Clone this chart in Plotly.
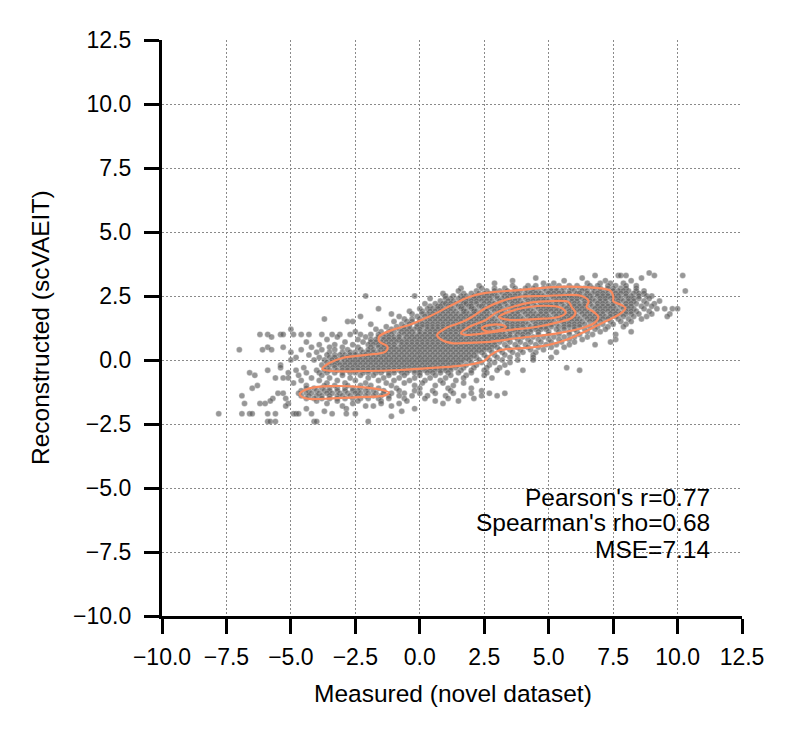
import plotly.graph_objects as go

ROW_Y = [3.4, 3.3, 3.2, 3.1, 3.0, 2.9, 2.8, 2.7, 2.6, 2.5, 2.4, 2.3, 2.2, 2.1, 2.0, 1.9, 1.8, 1.7,
         1.6, 1.5, 1.4, 1.3, 1.2, 1.1, 1.0, 0.9, 0.8, 0.7, 0.6, 0.5, 0.4, 0.3, 0.2, 0.1, 0.0,
         -0.1, -0.2, -0.3, -0.4, -0.5, -0.6, -0.7, -0.8, -0.9, -1.0, -1.1, -1.2, -1.3, -1.4,
         -1.5, -1.6, -1.7, -1.8, -1.9, -2.0, -2.1, -2.2, -2.4]
ROW_X = [
    [8.9],
    [6.8, 7.7, 7.8, 8.0, 9.1, 10.2],
    [4.5, 6.3, 8.6],
    [3.6, 5.6, 7.2, 8.2],
    [2.9, 4.8, 5.2, 6.5, 7.0, 7.4, 7.9],
    [2.3, 3.6, 4.2, 4.5, 5.0, 5.4, 5.8, 6.1, 6.6, 6.9, 7.3, 7.6, 8.0, 8.4],
    [1.6, 2.4, 2.9, 3.3, 3.7, 4.1, 4.4, 4.8, 5.1, 5.3, 5.6, 5.9, 6.2, 6.4, 6.7, 7.0, 7.3, 7.5, 7.8, 8.0, 8.4],
    [1.5, 2.2, 2.6, 2.9, 3.1, 3.4, 3.7, 3.9, 4.2, 4.4, 4.6, 4.9, 5.1, 5.3, 5.5, 5.8, 6.0, 6.3, 6.5, 6.8,
     7.0, 7.2, 7.5, 7.7, 7.9, 8.1, 8.4, 8.7, 10.3],
    [0.9, 1.7, 2.0, 2.3, 2.5, 2.7, 2.9, 3.2, 3.4, 3.6, 3.8, 4.1, 4.3, 4.5, 4.7, 5.0, 5.2, 5.4, 5.6, 5.8,
     6.1, 6.2, 6.5, 6.7, 6.9, 7.1, 7.3, 7.6, 7.8, 8.0, 8.3, 8.5, 8.7],
    [-2.1, -0.2, 1.0, 1.3, 1.6, 1.8, 2.1, 2.2, 2.4, 2.6, 2.8, 3.0, 3.3, 3.5, 3.7, 3.9, 4.1, 4.4, 4.6, 4.8,
     5.1, 5.3, 5.5, 5.7, 5.8, 6.0, 6.2, 6.4, 6.6, 6.9, 7.1, 7.3, 7.5, 7.7, 8.0, 8.2, 8.5, 8.8, 9.0],
    [0.4, 1.0, 1.2, 1.5, 1.7, 1.9, 2.1, 2.3, 2.5, 2.7, 3.0, 3.2, 3.4, 3.6, 3.8, 4.1, 4.3, 4.5, 4.7, 4.9,
     5.2, 5.4, 5.6, 5.9, 6.1, 6.3, 6.5, 6.7, 7.0, 7.2, 7.4, 7.6, 7.8, 8.1, 8.3, 8.5, 8.9],
    [0.8, 1.1, 1.3, 1.6, 1.8, 2.0, 2.2, 2.4, 2.6, 2.8, 3.1, 3.3, 3.5, 3.7, 3.9, 4.2, 4.4, 4.6, 4.8, 5.0,
     5.3, 5.5, 5.7, 5.9, 6.1, 6.4, 6.6, 6.8, 7.0, 7.2, 7.5, 7.7, 7.9, 8.1, 8.3, 8.7, 9.3],
    [0.2, 0.6, 0.9, 1.0, 1.2, 1.4, 1.7, 1.8, 2.0, 2.2, 2.5, 2.7, 2.9, 3.1, 3.3, 3.6, 3.8, 4.0, 4.2, 4.4,
     4.7, 4.9, 5.1, 5.3, 5.5, 5.8, 6.0, 6.2, 6.4, 6.6, 6.9, 7.1, 7.3, 7.5, 7.7, 8.0, 8.2, 8.4, 8.8, 9.1],
    [0.4, 0.7, 0.8, 1.1, 1.2, 1.5, 1.6, 1.9, 2.0, 2.3, 2.4, 2.7, 2.9, 3.1, 3.4, 3.6, 3.8, 4.0, 4.2, 4.5,
     4.7, 4.9, 5.1, 5.3, 5.6, 5.8, 6.0, 6.2, 6.4, 6.7, 6.9, 7.1, 7.3, 7.5, 7.8, 8.0, 8.2, 8.6, 9.0],
    [-1.6, 0.0, 0.3, 0.5, 0.7, 0.9, 1.1, 1.3, 1.6, 1.7, 2.0, 2.1, 2.5, 2.6, 2.8, 3.0, 3.2, 3.5, 3.7, 3.9,
     4.1, 4.3, 4.6, 4.8, 5.0, 5.2, 5.4, 5.7, 5.9, 6.1, 6.3, 6.5, 6.8, 7.0, 7.2, 7.4, 7.6, 7.9, 8.1, 8.3,
     8.7, 9.2, 9.5, 9.8, 10.0],
    [-0.4, 0.1, 0.4, 0.6, 0.8, 1.0, 1.2, 1.4, 1.7, 1.8, 2.1, 2.2, 2.4, 2.6, 2.9, 3.1, 3.3, 3.6, 3.8, 4.0,
     4.2, 4.4, 4.7, 4.9, 5.1, 5.3, 5.5, 5.8, 6.0, 6.2, 6.4, 6.6, 6.9, 7.1, 7.3, 7.5, 7.7, 8.0, 8.2, 8.4, 8.9],
    [-1.1, -0.3, 0.1, 0.3, 0.5, 0.7, 0.9, 1.1, 1.3, 1.5, 1.7, 1.9, 2.1, 2.3, 2.5, 2.7, 3.0, 3.2, 3.4, 3.6,
     3.8, 4.1, 4.3, 4.5, 4.7, 4.9, 5.2, 5.4, 5.6, 5.8, 6.0, 6.3, 6.5, 6.7, 6.9, 7.1, 7.4, 7.6, 7.8, 8.0,
     8.2, 8.5, 9.0, 9.7],
    [-2.3, -0.8, -0.1, 0.2, 0.4, 0.6, 0.8, 1.0, 1.2, 1.4, 1.6, 1.8, 2.0, 2.2, 2.4, 2.6, 2.8, 3.1, 3.3, 3.5,
     3.7, 3.9, 4.2, 4.4, 4.6, 4.8, 5.0, 5.3, 5.5, 5.7, 5.9, 6.1, 6.4, 6.6, 6.8, 7.0, 7.2, 7.4, 7.6, 7.9,
     8.3, 8.8, 9.6],
    [-3.7, -0.6, -0.3, 0.0, 0.3, 0.5, 0.7, 0.9, 1.1, 1.3, 1.5, 1.7, 1.9, 2.1, 2.3, 2.5, 2.7, 2.9, 3.2, 3.4,
     3.6, 3.8, 4.0, 4.3, 4.5, 4.7, 4.9, 5.1, 5.4, 5.6, 5.8, 6.0, 6.2, 6.5, 6.7, 6.9, 7.1, 7.3, 7.7, 8.1, 8.6],
    [-2.8, -2.6, -1.0, -0.5, -0.3, 0.0, 0.2, 0.4, 0.6, 0.8, 1.0, 1.2, 1.4, 1.6, 1.8, 2.0, 2.2, 2.4, 2.6, 2.8,
     3.0, 3.3, 3.5, 3.7, 3.9, 4.1, 4.4, 4.6, 4.8, 5.0, 5.2, 5.5, 5.7, 5.9, 6.1, 6.3, 6.6, 6.8, 7.0, 7.4,
     7.8, 8.2],
    [-1.9, -0.7, -0.4, -0.1, 0.1, 0.3, 0.5, 0.7, 0.9, 1.1, 1.3, 1.5, 1.7, 1.9, 2.1, 2.3, 2.5, 2.7, 2.9, 3.1,
     3.4, 3.6, 3.8, 4.0, 4.2, 4.5, 4.7, 4.9, 5.1, 5.3, 5.6, 5.8, 6.0, 6.2, 6.4, 6.8, 7.1, 7.5, 8.0],
    [-1.3, -0.9, -0.6, -0.4, -0.1, 0.1, 0.3, 0.5, 0.7, 0.9, 1.1, 1.3, 1.5, 1.7, 1.9, 2.1, 2.3, 2.5, 2.7, 2.9,
     3.2, 3.4, 3.6, 3.8, 4.0, 4.3, 4.5, 4.7, 4.9, 5.1, 5.4, 5.6, 5.8, 6.0, 6.2, 6.6, 6.9, 7.3, 7.9],
    [-5.0, -1.7, -1.1, -0.8, -0.6, -0.4, -0.2, 0.0, 0.3, 0.5, 0.7, 0.9, 1.1, 1.3, 1.5, 1.7, 1.9, 2.1, 2.3,
     2.5, 2.7, 3.0, 3.2, 3.4, 3.6, 3.8, 4.1, 4.3, 4.5, 4.7, 4.9, 5.3, 5.6, 6.0, 6.4, 6.8, 7.2],
    [-2.5, -1.5, -1.2, -1.0, -0.7, -0.5, -0.3, 0.0, 0.2, 0.4, 0.6, 0.8, 1.0, 1.2, 1.4, 1.6, 1.8, 2.0, 2.2,
     2.4, 2.6, 2.8, 3.0, 3.2, 3.5, 3.7, 3.9, 4.1, 4.3, 4.6, 5.0, 5.4, 5.8, 6.1, 6.5, 7.0, 8.2],
    [-6.2, -5.9, -5.4, -5.3, -4.9, -4.6, -4.3, -3.8, -3.4, -3.1, -2.7, -2.3, -1.9, -1.6, -1.3, -1.1, -0.8,
     -0.6, -0.4, -0.2, 0.0, 0.2, 0.4, 0.6, 0.8, 1.0, 1.2, 1.4, 1.6, 1.9, 2.1, 2.3, 2.5, 2.7, 2.9, 3.1, 3.3,
     3.5, 3.8, 4.0, 4.2, 4.6, 5.0, 5.4, 5.8, 6.2, 6.7, 7.6],
    [-5.75, -3.2, -2.1, -1.6, -1.4, -1.2, -1.0, -0.8, -0.5, -0.3, -0.1, 0.1, 0.3, 0.5, 0.7, 0.9, 1.1, 1.3,
     1.5, 1.7, 1.9, 2.1, 2.3, 2.5, 2.7, 2.9, 3.1, 3.3, 3.5, 3.7, 4.0, 4.4, 4.8, 5.2, 5.6, 6.0, 6.5],
    [-3.6, -2.4, -1.9, -1.7, -1.4, -1.2, -1.0, -0.8, -0.6, -0.4, -0.2, 0.0, 0.2, 0.4, 0.6, 0.8, 1.0, 1.2,
     1.4, 1.6, 1.8, 2.0, 2.2, 2.4, 2.6, 2.8, 3.0, 3.2, 3.4, 3.8, 4.2, 4.6, 5.0, 5.4, 5.8, 6.3, 7.6],
    [-4.4, -2.9, -2.2, -1.9, -1.7, -1.5, -1.3, -1.1, -0.9, -0.7, -0.5, -0.3, -0.1, 0.1, 0.3, 0.5, 0.7, 0.9,
     1.1, 1.3, 1.5, 1.7, 1.9, 2.1, 2.3, 2.5, 2.7, 2.9, 3.1, 3.5, 3.9, 4.3, 4.7, 5.1, 5.5, 6.0, 7.4],
    [-3.9, -3.3, -2.6, -2.0, -1.8, -1.6, -1.4, -1.2, -1.0, -0.7, -0.5, -0.3, -0.1, 0.1, 0.3, 0.5, 0.7, 0.9,
     1.1, 1.3, 1.5, 1.7, 1.9, 2.1, 2.3, 2.5, 2.7, 2.9, 3.3, 3.7, 4.1, 4.5, 4.9, 5.3, 5.8, 6.8],
    [-5.9, -5.3, -4.2, -3.5, -3.0, -2.4, -1.9, -1.6, -1.4, -1.2, -1.0, -0.8, -0.6, -0.4, -0.2, 0.0, 0.2,
     0.4, 0.6, 0.8, 1.0, 1.2, 1.4, 1.6, 1.8, 2.0, 2.2, 2.4, 2.6, 2.8, 3.0, 3.4, 3.8, 4.2, 4.6, 5.1, 5.6],
    [-7.0, -6.1, -5.75, -4.6, -3.8, -3.3, -2.8, -2.3, -2.0, -1.8, -1.5, -1.3, -1.1, -0.9, -0.7, -0.5, -0.3,
     -0.1, 0.1, 0.3, 0.5, 0.7, 0.9, 1.1, 1.3, 1.5, 1.7, 1.9, 2.1, 2.3, 2.5, 2.7, 3.1, 3.5, 3.9, 4.3, 4.8],
    [-5.0, -4.0, -3.5, -3.0, -2.7, -2.5, -2.2, -2.0, -1.8, -1.6, -1.4, -1.2, -1.0, -0.8, -0.6, -0.4, -0.2,
     0.0, 0.2, 0.4, 0.6, 0.8, 1.0, 1.2, 1.4, 1.6, 1.8, 2.0, 2.2, 2.4, 2.8, 3.2, 3.6, 4.0, 4.5, 5.3],
    [-4.3, -3.6, -3.3, -3.1, -2.9, -2.7, -2.5, -2.3, -2.1, -1.9, -1.7, -1.5, -1.3, -1.1, -0.9, -0.7, -0.5,
     -0.3, -0.1, 0.1, 0.3, 0.5, 0.7, 0.9, 1.1, 1.3, 1.5, 1.7, 1.9, 2.1, 2.5, 2.9, 3.3, 3.8, 4.4],
    [-4.8, -3.9, -3.5, -3.3, -3.0, -2.8, -2.6, -2.4, -2.2, -2.0, -1.8, -1.6, -1.4, -1.2, -1.0, -0.8, -0.6,
     -0.4, -0.2, 0.0, 0.2, 0.4, 0.6, 0.8, 1.0, 1.2, 1.4, 1.6, 1.8, 2.0, 2.2, 2.6, 3.0, 3.5, 4.4, 5.1],
    [-5.0, -4.1, -3.7, -3.4, -3.2, -2.9, -2.7, -2.5, -2.3, -2.1, -1.9, -1.7, -1.5, -1.3, -1.1, -0.9, -0.7,
     -0.5, -0.3, -0.1, 0.1, 0.3, 0.5, 0.7, 0.9, 1.1, 1.3, 1.5, 1.7, 1.9, 2.3, 2.7, 3.2, 3.8, 4.4],
    [-3.6, -3.4, -3.2, -3.0, -2.8, -2.6, -2.4, -2.2, -2.0, -1.8, -1.6, -1.4, -1.2, -1.0, -0.8, -0.6, -0.4,
     -0.2, 0.0, 0.2, 0.4, 0.6, 0.8, 1.0, 1.2, 1.4, 1.6, 2.0, 2.4, 2.9, 3.5],
    [-5.4, -3.8, -3.5, -3.3, -3.1, -2.9, -2.7, -2.5, -2.3, -2.1, -1.9, -1.7, -1.5, -1.3, -1.1, -0.9, -0.7,
     -0.5, -0.3, -0.1, 0.1, 0.3, 0.5, 0.7, 0.9, 1.1, 1.3, 1.5, 1.8, 2.2, 2.7, 3.3],
    [-5.4, -4.5, -3.6, -3.3, -3.0, -2.8, -2.6, -2.4, -2.2, -2.0, -1.8, -1.6, -1.4, -1.2, -1.0, -0.8, -0.6,
     -0.4, -0.2, 0.0, 0.2, 0.4, 0.6, 0.8, 1.0, 1.2, 1.4, 1.7, 2.1, 2.6, 3.1, 5.7],
    [-5.9, -4.8, -4.0, -3.7, -3.5, -3.2, -3.0, -2.8, -2.6, -2.4, -2.2, -2.0, -1.8, -1.6, -1.4, -1.2, -1.0,
     -0.8, -0.6, -0.4, -0.2, 0.0, 0.2, 0.4, 0.6, 0.8, 1.0, 1.2, 1.6, 2.0, 2.5, 3.0, 4.0, 6.2],
    [-6.6, -5.1, -4.4, -3.9, -3.6, -3.3, -3.0, -2.7, -2.5, -2.2, -2.0, -1.7, -1.5, -1.2, -1.0, -0.7, -0.5,
     -0.2, 0.0, 0.3, 0.5, 0.8, 1.1, 1.5, 2.0, 2.6, 3.4],
    [-6.4, -4.7, -3.8, -3.0, -2.3, -1.8, -1.2, -0.6, 0.0, 0.6, 1.2, 1.8, 2.5],
    [-5.6, -5.3, -5.1, -4.2, -3.5, -2.7, -2.0, -1.4, -0.8, -0.2, 0.4, 1.0, 1.7, 2.8],
    [-4.6, -3.9, -3.2, -2.5, -1.6, -1.0, -0.4, 0.2, 0.8, 1.4, 2.2],
    [-4.9, -3.6, -2.9, -2.1, -1.3, -0.6, 0.1, 0.9, 1.7],
    [-6.3, -4.4, -3.7, -3.3, -2.8, -2.3, -1.9, -1.1, -0.2, 0.6, 1.3],
    [-6.5, -4.4, -4.1, -3.8, -3.5, -3.2, -2.9, -2.6, -2.3, -2.0, -1.6, -0.9, 0.0, 1.1, 2.0],
    [-4.6, -4.3, -4.0, -3.7, -3.5, -3.2, -2.9, -2.6, -2.4, -2.1, -1.8, -1.4, -0.8, -0.2, 0.5, 1.2, 2.4],
    [-5.5, -5.3, -4.7, -4.4, -4.2, -3.9, -3.6, -3.4, -3.1, -2.8, -2.5, -2.3, -2.0, -1.7, -1.4, -1.1, -0.6,
     0.0, 0.6, 1.3, 2.0, 2.7, 3.3],
    [-6.9, -4.6, -4.3, -4.0, -3.8, -3.5, -3.2, -3.0, -2.7, -2.4, -2.1, -1.8, -1.5, -1.2, -0.8, -0.3, 0.3,
     1.0, 1.7, 2.4, 3.0],
    [-5.7, -5.2, -4.4, -4.1, -3.8, -3.5, -3.2, -2.9, -2.6, -2.3, -2.0, -1.6, -1.2, -0.6, 0.2, 1.1, 2.1],
    [-5.8, -4.0, -3.2, -2.4, -1.5, -0.5, 0.6, 1.5],
    [-6.8, -6.2, -6.0, -5.1, -3.6, -2.6, -1.5, -0.8, 0.9],
    [-5.2, -3.0, -2.1, -1.8, -1.1],
    [-4.4, -2.85, -0.2],
    [-3.7, -0.7],
    [-7.8, -6.9, -6.6, -6.5, -5.9, -5.6, -4.9, -4.8, -4.7, -4.2, -3.4, -2.85, -2.5],
    [-1.1],
    [-5.9, -5.8, -5.6, -4.1, -4.0, -2.0],
]

measured = [x for xs in ROW_X for x in xs]
reconstructed = [y for y, xs in zip(ROW_Y, ROW_X) for _ in xs]

# density contour lines
kde_outer_x = [-3.78, -3.39, -2.07, -0.80, 0.48, 1.79, 2.49, 2.76, 3.07, 4.34, 5.00, 5.66, 6.28, 6.93,
               7.32, 7.82, 7.98, 7.82, 7.51, 7.51, 7.40, 6.93, 6.43, 5.12, 3.84, 2.56, 1.91, 1.25, 0.75,
               0.24, -0.41, -1.07, -1.57, -1.57, -1.26, -1.32, -2.07, -3.00, -3.51]
kde_outer_y = [-0.35, -0.43, -0.43, -0.39, -0.31, -0.20, -0.04, 0.20, 0.37, 0.49, 0.59, 0.78, 1.05, 1.37,
               1.56, 1.84, 2.03, 2.15, 2.29, 2.46, 2.70, 2.81, 2.85, 2.85, 2.73, 2.62, 2.46, 2.15, 1.89,
               1.64, 1.37, 1.17, 0.92, 0.72, 0.53, 0.33, 0.20, 0.08, -0.12]
kde_low_x = [-4.66, -4.28, -3.39, -2.35, -1.46, -1.19, -1.38, -2.35, -3.39, -4.28, -4.59]
kde_low_y = [-1.33, -1.11, -1.02, -1.05, -1.17, -1.28, -1.39, -1.45, -1.50, -1.52, -1.43]
kde_mid_x = [0.67, 1.02, 1.64, 2.02, 2.56, 3.18, 3.84, 4.88, 5.66, 6.28, 6.55, 6.47, 6.74, 6.93, 6.82,
             6.43, 5.39, 3.84, 2.56, 1.64, 1.25, 0.86]
kde_mid_y = [0.98, 1.25, 1.48, 1.68, 2.03, 2.30, 2.46, 2.50, 2.54, 2.50, 2.30, 2.07, 1.88, 1.68, 1.48,
             1.29, 1.05, 0.86, 0.70, 0.66, 0.66, 0.78]
kde_inner_x = [1.60, 1.91, 2.56, 2.95, 3.45, 4.23, 5.12, 5.77, 5.89, 6.04, 5.89, 5.39, 4.50, 3.45, 2.56, 1.79]
kde_inner_y = [1.05, 1.29, 1.56, 1.84, 2.03, 2.23, 2.30, 2.27, 2.07, 1.84, 1.64, 1.48, 1.29, 1.17, 1.05, 0.98]
kde_core_x = [3.07, 3.45, 4.23, 5.12, 5.50, 5.66, 5.39, 4.50, 3.57, 3.18]
kde_core_y = [1.68, 1.88, 2.07, 2.11, 2.03, 1.84, 1.68, 1.60, 1.56, 1.62]
kde_peak_x = [2.41, 2.76, 3.18, 3.34, 3.07, 2.56]
kde_peak_y = [1.25, 1.37, 1.37, 1.29, 1.17, 1.13]

stats = ["Pearson's r=0.77", "Spearman's rho=0.68", "MSE=7.14"]

FONT = "Liberation Sans, Arial, sans-serif"
KDE_COLOR = "#F98A5E"

fig = go.Figure()
fig.add_trace(go.Scatter(
    x=measured, y=reconstructed, mode="markers",
    marker=dict(size=6, color="rgb(88,88,88)", opacity=0.62, line=dict(width=0.3, color="white")),
    hoverinfo="skip"))

for xs, ys in [(kde_outer_x, kde_outer_y), (kde_low_x, kde_low_y), (kde_mid_x, kde_mid_y),
               (kde_inner_x, kde_inner_y), (kde_core_x, kde_core_y), (kde_peak_x, kde_peak_y)]:
    fig.add_trace(go.Scatter(
        x=xs + xs[:1], y=ys + ys[:1], mode="lines",
        line=dict(color=KDE_COLOR, width=2.2, shape="spline", smoothing=1.0),
        hoverinfo="skip"))

axis_style = dict(
    range=[-10, 12.5], tick0=-10, dtick=2.5, tickformat=".1f",
    showline=True, linecolor="black", linewidth=3.3,
    ticks="outside", ticklen=15, tickwidth=3.3, tickcolor="black",
    showgrid=True, gridcolor="#8a8a8a", gridwidth=0.8, griddash="2px,2px",
    zeroline=False, tickfont=dict(family=FONT, size=23, color="black"),
    fixedrange=True,
)

# the page body adds an 8px margin, so the figure is 16px smaller than the window
fig.update_layout(
    width=781, height=722,
    margin=dict(l=154, r=47, t=32, b=114),
    plot_bgcolor="white", paper_bgcolor="white",
    showlegend=False,
    font=dict(family=FONT, color="black"),
    xaxis=dict(axis_style, ticklabelstandoff=3),
    yaxis=dict(axis_style, ticklabelstandoff=8),
)

annotations = [
    dict(text="Measured (novel dataset)", x=0.502, y=-0.1337, xref="paper", yref="paper",
         xanchor="center", yanchor="middle", showarrow=False, font=dict(size=24.5)),
    dict(text="Reconstructed (scVAEIT)", x=-0.2103, y=0.5, xref="paper", yref="paper",
         xanchor="center", yanchor="middle", textangle=-90, showarrow=False, font=dict(size=24.5)),
]
for txt, yy in zip(stats, [0.2049, 0.1623, 0.1146]):
    annotations.append(dict(text=txt, x=0.948, y=yy, xref="paper", yref="paper",
                            xanchor="right", yanchor="middle", showarrow=False, font=dict(size=24.5)))
fig.update_layout(annotations=annotations)

fig.write_html("out.html")
